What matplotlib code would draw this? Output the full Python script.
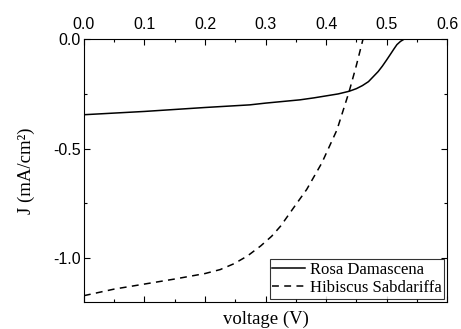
import matplotlib

matplotlib.use("Agg")
import matplotlib.pyplot as plt
from matplotlib.ticker import MultipleLocator

# J-V curves (V in volts, J in mA/cm^2)
rosa_v = [0.0, 0.1, 0.2, 0.274, 0.3, 0.357, 0.38, 0.40, 0.42, 0.438, 0.45,
          0.46, 0.47, 0.478, 0.486, 0.493, 0.50, 0.507, 0.512, 0.517, 0.523,
          0.529]
rosa_j = [-0.345, -0.330, -0.312, -0.300, -0.292, -0.277, -0.268, -0.259,
          -0.250, -0.238, -0.226, -0.212, -0.194, -0.171, -0.148, -0.123,
          -0.095, -0.066, -0.045, -0.025, -0.010, 0.0]

hib_v = [0.0, 0.05, 0.1, 0.15, 0.2, 0.225, 0.248, 0.27, 0.292, 0.31, 0.325,
         0.345, 0.368, 0.393, 0.418, 0.438, 0.45, 0.461]
hib_j = [-1.171, -1.141, -1.118, -1.095, -1.070, -1.052, -1.025, -0.990,
         -0.944, -0.900, -0.853, -0.775, -0.686, -0.565, -0.414, -0.240,
         -0.120, 0.0]

serif = ["Liberation Serif", "DejaVu Serif"]
sans = ["Liberation Sans", "DejaVu Sans"]

fig = plt.figure(figsize=(4.61, 3.29), dpi=100)
ax = fig.add_axes([0.182, 0.082, 0.788, 0.799])

ax.plot(rosa_v, rosa_j, color="black", lw=1.1, ls="-", label="Rosa Damascena")
ax.plot(hib_v, hib_j, color="black", lw=1.1, ls=(0, (4.5, 3.5)),
        label="Hibiscus Sabdariffa")

ax.set_xlim(0.0, 0.6)
ax.set_ylim(-1.2, 0.0)
ax.xaxis.set_major_locator(MultipleLocator(0.1))
ax.xaxis.set_minor_locator(MultipleLocator(0.05))
ax.yaxis.set_major_locator(MultipleLocator(0.5))
ax.yaxis.set_minor_locator(MultipleLocator(0.25))
ax.tick_params(which="both", direction="in", top=True, right=True,
               labeltop=True, labelbottom=False, width=0.8)
ax.tick_params(which="major", length=4, labelsize=11.5)
ax.tick_params(axis="x", which="major", pad=5)
ax.tick_params(axis="y", which="major", pad=2)
ax.tick_params(which="minor", length=2.5)
ax.xaxis.set_major_formatter(plt.FuncFormatter(lambda x, p: f"{x:.1f}"))
ax.yaxis.set_major_formatter(plt.FuncFormatter(lambda y, p: f"{y:.1f}"))
for lab in ax.get_xticklabels() + ax.get_yticklabels():
    lab.set_family(sans)

ax.set_xlabel("voltage (V)", family=serif, fontsize=13.5, labelpad=6)
ax.set_ylabel("J (mA/cm²)", family=serif, fontsize=13.5, labelpad=13)

leg = ax.legend(loc="lower right", prop={"family": serif, "size": 12},
                frameon=True, fancybox=False, edgecolor="black",
                handlelength=2.0, handletextpad=0.25, borderpad=0.15,
                labelspacing=0.15, borderaxespad=0.2)
leg.get_frame().set_linewidth(0.8)

fig.savefig("out.png", dpi=100)
